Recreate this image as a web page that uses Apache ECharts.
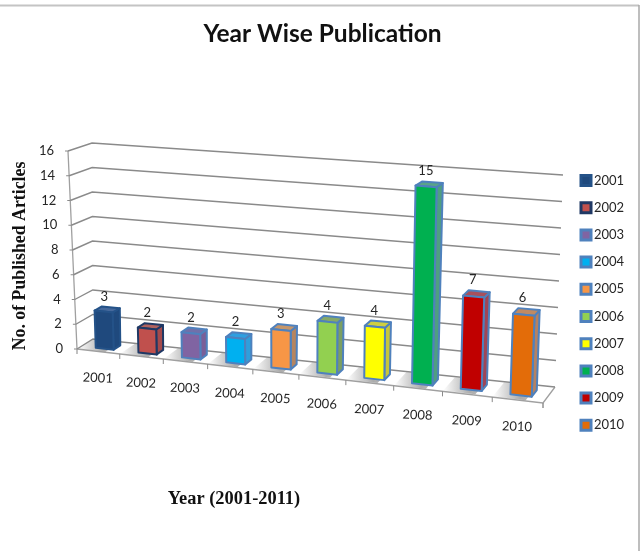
<!DOCTYPE html>
<html><head><meta charset="utf-8">
<style>html,body{margin:0;padding:0;background:#fff}#c{width:643px;height:551px}</style>
<script src="https://cdn.jsdelivr.net/npm/echarts@6/dist/echarts.min.js"></script>
</head><body><div id="c"></div>
<script>
const categories = ['2001','2002','2003','2004','2005','2006','2007','2008','2009','2010'];
const values = [3,2,2,2,3,4,4,15,7,6];
const yTicks = [0,2,4,6,8,10,12,14,16];
const frontColors = ['#1f497d','#c0504d','#8064a2','#00b0f0','#f79646','#92d050','#ffff00','#00b050','#c00000','#e36c09'];
const sideColors  = ['#1f497d','#a44a4c','#7a5f98','#2f9fdc','#b58560','#7b9f62','#c6c63c','#4f9f80','#a04556','#b58262'];
const topColors   = ['#46699c','#b0625e','#7070aa','#2f9fe0','#c5966a','#85a868','#cfcf40','#5aa388','#a8505c','#c08a62'];
const edgeColors  = ['#245288','#1f3864','#4f81bd','#4f81bd','#4f81bd','#4f81bd','#4f81bd','#4f81bd','#4f81bd','#4f81bd'];

const G = {left:77, top:151, width:466, height:198};
const FLB=[77,349], FLT=[68,151], FRB=[543,403], FRT=[551,185];
const BLB=[93,339], BLT=[92,143], BRB=[555,387], BRT=[563,175];
const BAR_W = 0.42, D1 = 0.29, D2 = 0.71;
const FONT = '13px Lato', TXT = '#262626', LINE = '#8a8a8a';

function mix(a,b,k){return [a[0]+(b[0]-a[0])*k, a[1]+(b[1]-a[1])*k];}
// perspective view of a point given in the flat grid's pixels, at depth d
function view(px,py,d){
  const t=(px-G.left)/G.width, h=(G.top+G.height-py)/G.height;
  const s=t/(t+(1-t)*1.1);
  const fb=mix(FLB,FRB,s), ft=mix(FLT,FRT,s), bb=mix(BLB,BRB,s), bt=mix(BLT,BRT,s);
  return mix(mix(fb,ft,h), mix(bb,bt,h), d);
}
function poly(points,fill,stroke,lw){
  return {type:'polygon',shape:{points},style:{fill,stroke,lineWidth:lw||0,lineJoin:'round'}};
}
function line(points,w,c){
  return {type:'polyline',shape:{points},style:{fill:'none',stroke:c||LINE,lineWidth:w||1.2}};
}
function text(str,p,font,rot){
  return {type:'text',x:p[0],y:p[1],rotation:rot||0,style:{text:str,x:0,y:0,fill:TXT,font,align:'center',verticalAlign:'middle'}};
}

function renderWall(params,api){
  const v=api.value(1), y=api.coord([0,v])[1];
  const L=G.left, R=G.left+G.width;
  const a=view(L,y,0), b=view(L,y,1), c=view(R,y,1);
  return {type:'group',children:[
    line([a,b,c],1.4),
    line([a,[a[0]-3,a[1]]],1),
    {type:'text',x:a[0]-14,y:a[1],style:{text:String(v),x:0,y:0,fill:TXT,font:FONT,align:'right',verticalAlign:'middle'}}
  ]};
}
function renderFloor(params,api){
  const i=api.value(0), c=api.coord([i,0]), w=api.size([1,0])[0], y=c[1];
  const L=c[0]-w/2, R=c[0]+w/2;
  const ch=[];
  // soft contact shadow on the floor
  const p=[view(L,y,.05),view(c[0]+w*.15,y,.05),view(c[0]+w*.15,y,.95),view(L,y,.95)];
  ch.push({type:'polygon',shape:{points:p},style:{
    fill:new echarts.graphic.LinearGradient(0,0,1,0,[
      {offset:0,color:'rgba(120,120,120,0)'},
      {offset:.62,color:'rgba(120,120,120,.62)'},
      {offset:1,color:'rgba(120,120,120,.45)'}])}});
  ch.push(line([view(R,y,0),[view(R,y,0)[0],view(R,y,0)[1]+5]],1));
  ch.push(text(categories[i],[view(c[0],y,0)[0]-.5,view(c[0],y,0)[1]+26.5],FONT,-0.04));
  return {type:'group',children:ch};
}
function renderBase(params,api){
  const y=api.coord([0,0])[1], t=api.coord([0,16])[1], L=G.left, R=G.left+G.width;
  return {type:'group',children:[
    poly([view(L,y,0),view(R,y,0),view(R,y,1),view(L,y,1)],'#ffffff'),
    line([view(L,t,0),view(L,y,0),[view(L,y,0)[0],view(L,y,0)[1]+5]],1.3,'#a0a0a0'),
    line([view(L,y,0),view(R,y,0),view(R,y,1)],1.3,'#a0a0a0'),
    line([view(R,y,0),[view(R,y,0)[0],view(R,y,0)[1]+5]],1,'#a0a0a0')
  ]};
}
function barRenderer(idx){
  return function(params,api){
    const i=api.value(0), val=api.value(1);
    const base=api.coord([i,0]), top=api.coord([i,val]), w=api.size([1,0])[0]*BAR_W;
    const nudge=2*(1-i/(categories.length-1));
    const cx=base[0]+nudge, l=cx-w/2, r=cx+w/2, y0=base[1], y1=top[1];
    const f=[view(l,y0,D1),view(r,y0,D1),view(r,y1,D1),view(l,y1,D1)];
    const s=[view(r,y0,D1),view(r,y0,D2),view(r,y1,D2),view(r,y1,D1)];
    const u=[view(l,y1,D1),view(r,y1,D1),view(r,y1,D2),view(l,y1,D2)];
    const e=edgeColors[idx], lab=view(cx,y1,D2);
    return {type:'group',children:[
      poly(s,sideColors[idx],e,2),
      poly(u,topColors[idx],e,2),
      poly(f,frontColors[idx],e,2),
      text(String(val),[lab[0]-6.5,lab[1]-11],FONT)
    ]};
  };
}

const series=[
  {type:'custom',name:'base',silent:true,z:1,data:[[0,0]],renderItem:renderBase},
  {type:'custom',name:'walls',silent:true,z:2,data:yTicks.map(v=>[0,v]),renderItem:renderWall},
  {type:'custom',name:'floor',silent:true,z:3,data:categories.map((c,i)=>[i,0]),renderItem:renderFloor}
];
categories.forEach((c,i)=>{
  series.push({type:'custom',name:c,z:4+i,itemStyle:{color:frontColors[i]},
    data:[[i,values[i]]],renderItem:barRenderer(i)});
});

const chart=echarts.init(document.getElementById('c'),null,{renderer:'canvas'});
chart.setOption({
  animation:false,
  backgroundColor:'#ffffff',
  title:{text:'Year Wise Publication',left:317.5,top:17,textAlign:'center',
    textStyle:{fontFamily:'Lato',fontWeight:'bold',fontSize:24.5,color:'#111'}},
  grid:{left:G.left,top:G.top,width:G.width,height:G.height,containLabel:false},
  xAxis:{type:'category',data:categories,show:false},
  yAxis:{type:'value',min:0,max:16,interval:2,show:false},
  legend:{orient:'vertical',left:579.5,top:174,padding:0,icon:'rect',itemWidth:10,itemHeight:10,itemGap:14.2,
    selectedMode:false,
    textStyle:{fontFamily:'Lato',fontSize:13,color:TXT,padding:[0,0,0,-2]},
    data:categories.map((c,i)=>({name:c,itemStyle:{color:frontColors[i],borderColor:edgeColors[i],borderWidth:3}}))},
  tooltip:{show:false},
  graphic:[
    {type:'line',shape:{x1:0,y1:5.5,x2:639,y2:5.5},style:{stroke:'#c4c4c4',lineWidth:2}},
    {type:'line',shape:{x1:639,y1:5,x2:639,y2:551},style:{stroke:'#a8a8a8',lineWidth:1.5}},
    {type:'text',x:20,y:256,rotation:Math.PI/2,style:{text:'No. of Published Articles',x:0,y:0,fill:'#111',
      font:'bold 17.8px "Liberation Serif"',align:'center',verticalAlign:'middle'}},
    {type:'text',x:234,y:499,style:{text:'Year (2001-2011)',x:0,y:0,fill:'#111',
      font:'bold 18.4px "Liberation Serif"',align:'center',verticalAlign:'middle'}}
  ],
  series
});
</script></body></html>
